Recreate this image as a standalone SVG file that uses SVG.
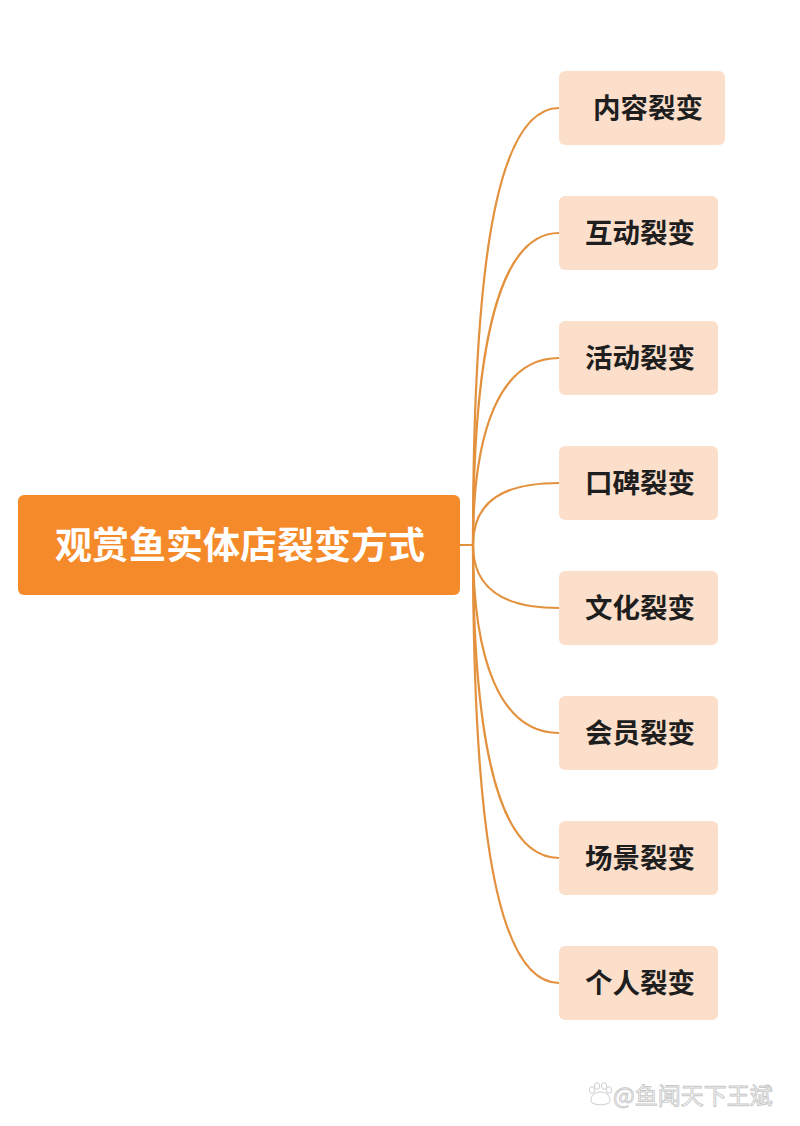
<svg xmlns="http://www.w3.org/2000/svg" width="800" height="1126" viewBox="0 0 800 1126">
<style>
.conn{fill:none;stroke:#E3913D;stroke-width:2.2;stroke-linecap:round}
.child rect{fill:#FCDFCA}
.child text{font-family:"Noto Sans CJK SC","Noto Sans",sans-serif;font-weight:700;font-size:27.5px;fill:#1E1E1E;text-anchor:middle}
.root rect{fill:#F58A2A}
.root text{font-family:"Noto Sans CJK SC","Noto Sans",sans-serif;font-weight:700;font-size:37px;fill:#FFFFFF;text-anchor:middle}
.wm{font-family:"Noto Sans CJK SC","Noto Sans",sans-serif;font-size:23px;fill:#FFFFFF;stroke:#C8C8C8;stroke-width:0.9}
</style>
<rect width="800" height="1126" fill="#FFFFFF"/>
<g id="connectors">
<path class="conn" d="M460 545 H473"/>
<path class="conn" d="M473 545 C473 300 490 108 559 108"/>
<path class="conn" d="M473 545 C473 360 495 233 559 233"/>
<path class="conn" d="M473 545 C473 430 500 358 559 358"/>
<path class="conn" d="M473 545 C473 500 505 483 559 483"/>
<path class="conn" d="M473 545 C473 590 505 608 559 608"/>
<path class="conn" d="M473 545 C473 660 500 733 559 733"/>
<path class="conn" d="M473 545 C473 730 495 858 559 858"/>
<path class="conn" d="M473 545 C473 790 490 983 559 983"/>
</g>
<g id="root" class="root">
<rect x="18" y="495" width="442" height="100" rx="6"/>
<text x="240" y="559">观赏鱼实体店裂变方式</text>
</g>
<g id="n1" class="child"><rect x="559" y="71" width="166" height="74" rx="6"/><text x="648" y="118">内容裂变</text></g>
<g id="n2" class="child"><rect x="559" y="196" width="159" height="74" rx="6"/><text x="640" y="243">互动裂变</text></g>
<g id="n3" class="child"><rect x="559" y="321" width="159" height="74" rx="6"/><text x="640" y="368">活动裂变</text></g>
<g id="n4" class="child"><rect x="559" y="446" width="159" height="74" rx="6"/><text x="640" y="493">口碑裂变</text></g>
<g id="n5" class="child"><rect x="559" y="571" width="159" height="74" rx="6"/><text x="640" y="618">文化裂变</text></g>
<g id="n6" class="child"><rect x="559" y="696" width="159" height="74" rx="6"/><text x="640" y="743">会员裂变</text></g>
<g id="n7" class="child"><rect x="559" y="821" width="159" height="74" rx="6"/><text x="640" y="868">场景裂变</text></g>
<g id="n8" class="child"><rect x="559" y="946" width="159" height="74" rx="6"/><text x="640" y="993">个人裂变</text></g>
<g id="watermark" fill="#FFFFFF" stroke="#C8C8C8" stroke-width="0.9">
<ellipse cx="592" cy="1090" rx="2.6" ry="3.3"/>
<ellipse cx="597" cy="1086" rx="2.6" ry="3.3"/>
<ellipse cx="604" cy="1086" rx="2.6" ry="3.3"/>
<ellipse cx="609" cy="1090" rx="2.6" ry="3.3"/>
<path d="M591 1101 C591 1094 596 1092 600.5 1092 C605 1092 610 1094 610 1101 C610 1106 591 1106 591 1101 Z"/>
<text class="wm" x="613" y="1104">@鱼闻天下王斌</text>
</g>
</svg>
